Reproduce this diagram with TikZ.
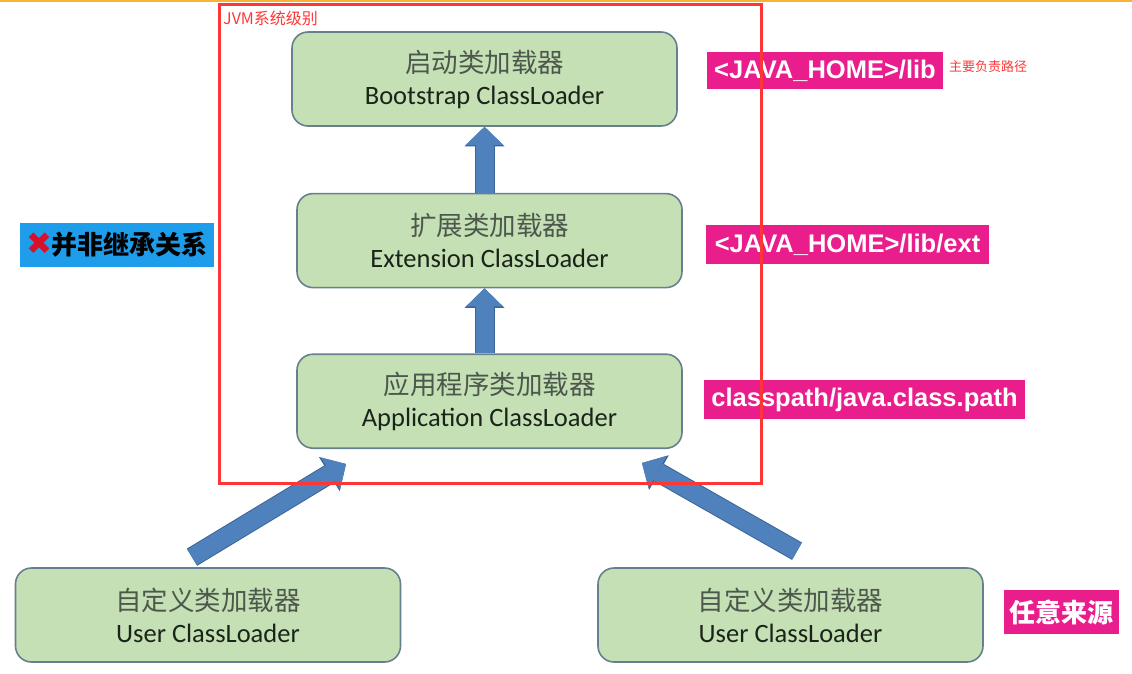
\documentclass[tikz,border=0pt]{standalone}
\usepackage{fontspec}
\setmainfont{Carlito}
\newfontfamily\cjkfont{Noto Sans CJK SC}
\newfontfamily\tagfont{Liberation Sans}
\newfontfamily\symfont{DejaVu Sans}
\usepackage{xcolor}
\usetikzlibrary{arrows.meta, positioning}
\definecolor{loaderfill}{HTML}{C5E0B4}
\definecolor{loaderline}{HTML}{66808F}
\definecolor{cjkgray}{HTML}{4D584D}
\definecolor{textdark}{HTML}{1A241A}
\definecolor{arrowblue}{HTML}{4F81BD}
\definecolor{arrowedge}{HTML}{3B6597}
\definecolor{jvmred}{HTML}{FF3636}
\definecolor{crossred}{HTML}{D8102A}
\definecolor{tagpink}{HTML}{E91E8C}
\definecolor{tagblue}{HTML}{1E9DEB}
\definecolor{topbar}{HTML}{F9B233}
\tikzstyle{loader} = [rectangle, rounded corners=16pt, minimum width=385pt,
    minimum height=94pt, draw=loaderline, line width=1.6pt, fill=loaderfill,
    align=center, text=textdark, font=\fontsize{26.5}{32}\selectfont]
\tikzstyle{pathtag} = [rectangle, fill=tagpink, text=white, inner sep=0pt,
    font=\tagfont\bfseries\fontsize{25.5}{30}\selectfont]
\tikzstyle{cjktag} = [rectangle, inner sep=0pt, minimum height=44pt,
    font=\cjkfont\bfseries\fontsize{26}{30}\selectfont]
\tikzstyle{fatarrow} = [line width=18pt, draw=arrowblue,
    -{Triangle[width=37pt,length=18pt,line width=0pt]},
    preaction={draw=arrowedge, line width=20pt,
      -{Triangle[width=40pt,length=19.5pt,line width=0pt]}}]
\tikzstyle{jvmframe} = [draw=jvmred, line width=3pt]
\tikzstyle{note} = [anchor=west, text=jvmred, inner sep=0pt]

\begin{document}
\begin{tikzpicture}[x=1pt, y=-1pt]
  \useasboundingbox (0,0) rectangle (1132,673);
  \fill[topbar] (0,0) rectangle (1132,2);

  % Loaders
  \node[loader](boot) at (484.5,79)
    {{\cjkfont\color{cjkgray}启动类加载器}\\Bootstrap ClassLoader};
  \node[loader, below=66pt of boot, xshift=5pt](ext)
    {{\cjkfont\color{cjkgray}扩展类加载器}\\Extension ClassLoader};
  \node[loader, below=65pt of ext](app)
    {{\cjkfont\color{cjkgray}应用程序类加载器}\\Application ClassLoader};
  \node[loader](user1) at (208,615)
    {{\cjkfont\color{cjkgray}自定义类加载器}\\User ClassLoader};
  \node[loader](user2) at (790.5,615)
    {{\cjkfont\color{cjkgray}自定义类加载器}\\User ClassLoader};

  % Delegation arrows
  \draw[fatarrow](ext.north -| boot.south) -- (boot.south);
  \draw[fatarrow](app.north -| boot.south) -- (ext.south -| boot.south);
  \draw[fatarrow]([shift={(-16,-10)}]user1.north) -- ([shift={(-143.5,15)}]app.south);
  \draw[fatarrow]([shift={(6.5,-16)}]user2.north) -- ([shift={(152.5,14)}]app.south);

  % Load paths
  \node[pathtag, minimum width=236pt, minimum height=37pt](libtag) at (825,70.5)
    {<JAVA\_HOME>/lib};
  \node[note, font=\cjkfont\fontsize{13}{15}\selectfont](libnote) at (949,67)
    {主要负责路径};
  \node[pathtag, minimum width=283pt, minimum height=39pt](exttag) at (847.5,244.5)
    {<JAVA\_HOME>/lib/ext};
  \node[pathtag, minimum width=321pt, minimum height=39pt](cptag) at (864.5,399.5)
    {classpath/java.class.path};
  \node[cjktag, fill=tagpink, text=white, minimum width=115pt](anytag) at (1061.5,612)
    {任意来源};
  \node[cjktag, fill=tagblue, text=black, minimum width=194pt](notinherit) at (117,245)
    {{\symfont\fontsize{31}{30}\selectfont\color{crossred}✖}并非继承关系};

  % JVM level
  \draw[jvmframe](219,4.5) rectangle (761,483);
  \node[note, font=\cjkfont\fontsize{16}{18}\selectfont](jvmnote) at (223,18)
    {JVM系统级别};
\end{tikzpicture}
\end{document}
